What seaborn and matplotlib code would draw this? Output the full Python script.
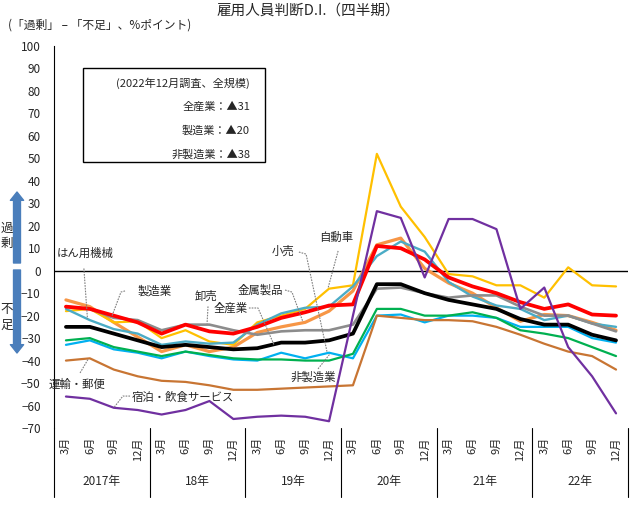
import matplotlib
matplotlib.use('Agg')
import matplotlib.pyplot as plt
from matplotlib.patches import Rectangle
import pandas as pd
import seaborn as sns

# Data
months = ['3月', '6月', '9月', '12月'] * 6
years = ['2017年', '18年', '19年', '20年', '21年', '22年']

zen_sangyo = [-25, -25, -28, -31, -34, -33, -34, -35, -34.5, -32, -32, -31,
              -28, -6, -6, -10, -13, -15, -17, -21.5, -24, -24, -28.5, -31]
seizo = [-16, -17, -20, -23, -28, -24, -27, -28, -25, -21, -18.5, -15.5,
         -15, 11, 10, 5, -3, -7, -10, -14, -17, -15, -19.5, -20]
hiseizo = [-31, -30, -34, -36, -38, -36, -37.5, -39, -39.5, -39.5, -40, -40,
           -37, -17, -17, -20, -20, -18.5, -21, -26.5, -28, -30, -34, -38]
hanyo_kikai = [-17, -22, -26, -28, -33, -31.5, -32.5, -32, -24, -19, -16.5, -16,
               -7, 6.5, 13, 8.5, -5, -11.5, -15.5, -17, -22, -20, -23.5, -25]
oroshiuri = [-16, -17, -21, -22, -26.5, -24, -24, -26.5, -28.5, -27, -26.5, -26.5,
             -24, -8, -7.5, -10, -12, -11, -11, -16, -20, -20, -23.5, -27]
kinzoku = [-13, -16, -23, -29.5, -36, -33, -36, -34, -27.5, -25, -23, -18,
           -9, 11.5, 14.5, 1, -5.5, -10, -16.5, -22.5, -19.5, -20, -23, -26.5]
jidosha = [-18, -17, -23, -22.5, -30, -26.5, -31.5, -33, -23, -20, -17, -8,
           -6.5, 52, 28.5, 15, -1.5, -2.5, -6.5, -6.5, -12, 1.5, -6.5, -7]
kouri = [-33, -31, -35, -36.5, -39, -36, -38, -39.5, -40, -36.5, -39, -36.5,
         -39, -20, -19.5, -23, -20, -20, -21, -25, -25, -25, -30, -32]
unyu = [-40, -39, -44, -47, -49, -49.5, -51, -53, -53, -52.5, -52, -51.5,
        -51, -20, -21, -22, -22, -22.5, -25, -28.5, -32.5, -36, -38, -44]
shukuhaku = [-56, -57, -61, -62, -64, -62, -58, -66, -65, -64.5, -65, -67,
             -20, 26.5, 23.5, -3, 23, 23, 18.5, -17, -7.5, -34, -47, -63.5]

# drawing order: first = bottom
series = [
    ('金属製品', kinzoku, '#F79646', 2.3),
    ('自動車', jidosha, '#FFC000', 1.6),
    ('はん用機械', hanyo_kikai, '#4BACC6', 1.7),
    ('卸売', oroshiuri, '#8C8C8C', 1.9),
    ('小売', kouri, '#00B0F0', 1.6),
    ('非製造業', hiseizo, '#00B050', 1.6),
    ('運輸・郵便', unyu, '#C87533', 1.6),
    ('製造業', seizo, '#FF0000', 2.7),
    ('全産業', zen_sangyo, '#000000', 2.7),
    ('宿泊・飲食サービス', shukuhaku, '#7030A0', 1.6),
]

sns.set_style('white')
plt.rcParams['font.family'] = ['Noto Sans CJK JP', 'DejaVu Sans']

fig = plt.figure(figsize=(6.3, 5.05), dpi=100)
ax = fig.add_axes([0.0857, 0.1525, 0.9111, 0.7564])

ax.axhline(0, color='black', lw=1.0, zorder=1)

for name, vals, col, lw in series:
    df = pd.DataFrame({'q': range(len(vals)), 'di': vals})
    sns.lineplot(data=df, x='q', y='di', color=col, linewidth=lw, ax=ax,
                 solid_joinstyle='round', zorder=2)

ax.set_xlim(-0.5, 23.5)
ax.set_ylim(-70, 100)
ax.set_yticks(range(-70, 101, 10))
ax.set_xlabel('')
ax.set_ylabel('')
for s in ['top', 'right', 'bottom']:
    ax.spines[s].set_visible(False)
ax.spines['left'].set_color('black')
ax.spines['left'].set_linewidth(0.8)
ax.tick_params(axis='y', direction='in', length=4, width=0.8, labelsize=8.5, pad=9.5)
ax.set_xticks(range(24))
ax.set_xticklabels(months, rotation=90, fontsize=8, va='top')
ax.tick_params(axis='x', length=0, pad=6.5)

# year labels and separators
xt = ax.get_xaxis_transform()
for k, y in enumerate(years):
    ax.text(1.5 + 4 * k, -0.139, y, transform=xt, ha='center', va='center', fontsize=8.5)
for k in range(7):
    ax.plot([-0.5 + 4 * k] * 2, [0, -0.18], transform=xt, color='black', lw=0.8, clip_on=False)

# summary box
ax.add_patch(Rectangle((0.71, 48.4), 7.61, 41.8, facecolor='white', edgecolor='black', lw=1, zorder=3))
box_lines = [('(2022年12月調査、全規模)', 83.5), ('全産業：▲31', 72.9),
             ('製造業：▲20', 62.2), ('非製造業：▲38', 51.9)]
for t, y in box_lines:
    ax.text(7.7, y, t, ha='right', va='center', fontsize=8, zorder=4)

# series labels with leader lines
labels = [
    ('はん用機械', -0.38, 7.9, 'left', [(0.75, 1), (0.9, -21.5)]),
    ('製造業', 3.0, -9, 'left', [(2.47, -9), (2.3, -9.5), (1.92, -20.3)]),
    ('卸売', 5.86, -11.3, 'center', [(5.94, -15.9), (5.9, -23.5)]),
    ('全産業', 6.9, -16.6, 'center', [(7.65, -16.6), (8.03, -16.6), (8.7, -33)]),
    ('金属製品', 8.11, -8.6, 'center', [(9.16, -8.6), (9.45, -9.5), (9.91, -22.8)]),
    ('小売', 9.08, 8.8, 'center', [(9.74, 8.3), (10.04, 7.4), (10.92, -36.3)]),
    ('自動車', 11.29, 15, 'center', [(11.38, 8.8), (10.96, -7.7)]),
    ('非製造業', 10.33, -47.3, 'center', [(10.54, -43.7), (11.04, -37)]),
    ('運輸・郵便', -0.71, -50.4, 'left', [(0.59, -45.5), (0.92, -39.5)]),
    ('宿泊・飲食サービス', 2.76, -56.2, 'left', [(2.68, -55.8), (2.38, -55.8), (2.0, -61)]),
]
for t, x, y, ha, leader in labels:
    ax.text(x, y, t, ha=ha, va='center', fontsize=8.2, zorder=4)
    lx, ly = zip(*leader)
    ax.plot(lx, ly, color='#808080', lw=0.8, ls=(0, (1.5, 1)), clip_on=False, zorder=4)

# titles
fig.text(0.49, 1 - 11 / 505, '雇用人員判断D.I.（四半期）', ha='center', va='center', fontsize=10.5)
fig.text(8 / 630, 1 - 25 / 505, '(「過剰」 – 「不足」、%ポイント)', ha='left', va='center', fontsize=8.5)

# excess / shortage arrows
arrow_col = '#4A7EBB'
style = 'simple,head_length=0.6,head_width=0.95,tail_width=0.5'
ax.annotate('', xy=(17, 505 - 192), xytext=(17, 505 - 263), xycoords='figure pixels',
            textcoords='figure pixels',
            arrowprops=dict(arrowstyle=style, color=arrow_col, mutation_scale=10, shrinkA=0, shrinkB=0))
ax.annotate('', xy=(17, 505 - 353), xytext=(17, 505 - 270), xycoords='figure pixels',
            textcoords='figure pixels',
            arrowprops=dict(arrowstyle=style, color=arrow_col, mutation_scale=10, shrinkA=0, shrinkB=0))
fig.text(7 / 630, 1 - 236 / 505, '過\n剰', ha='center', va='center', fontsize=9, linespacing=1.15)
fig.text(7 / 630, 1 - 317 / 505, '不\n足', ha='center', va='center', fontsize=9, linespacing=1.3)

fig.savefig('out.png', dpi=100)
